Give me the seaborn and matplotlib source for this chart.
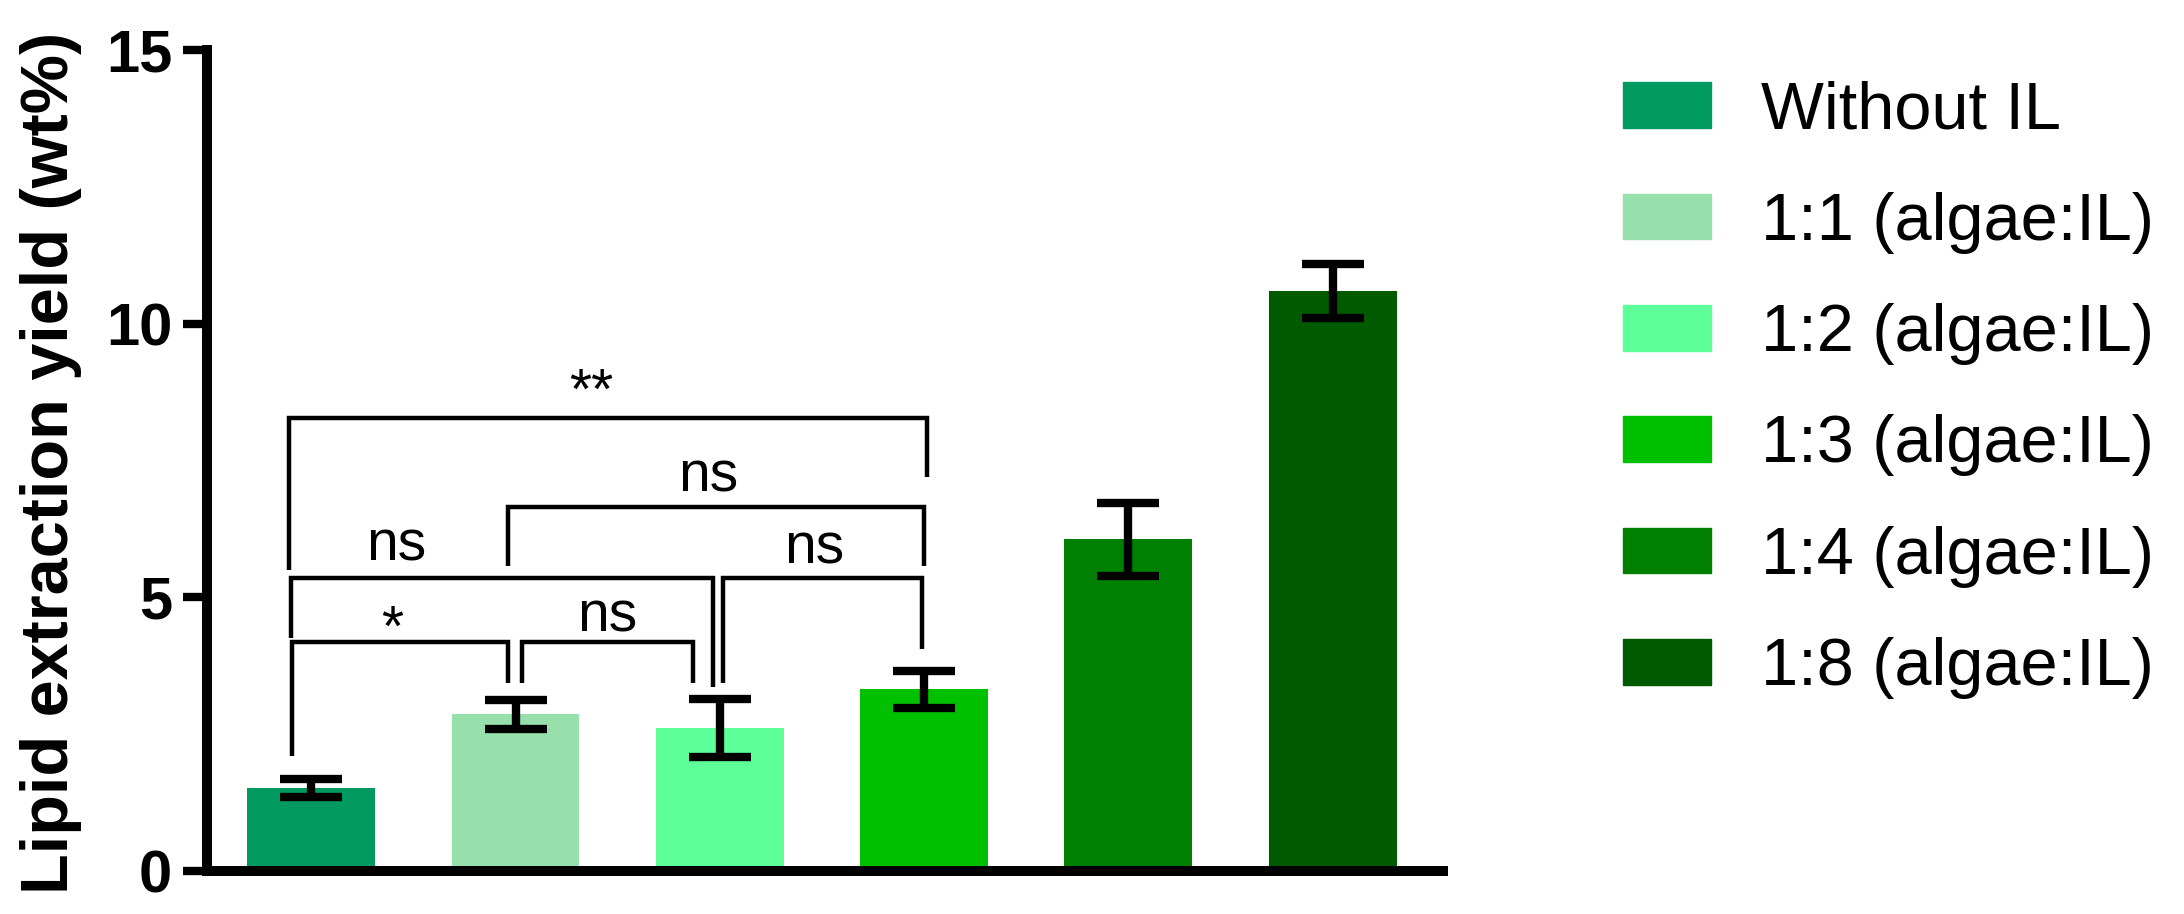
import matplotlib
matplotlib.use('Agg')
import pandas as pd
import matplotlib.pyplot as plt
import matplotlib.patches as mpatches
import seaborn as sns

# bar data (mean +/- error)
groups = ['Without IL', '1:1 (algae:IL)', '1:2 (algae:IL)', '1:3 (algae:IL)',
          '1:4 (algae:IL)', '1:8 (algae:IL)']
means = [1.52, 2.86, 2.61, 3.32, 6.06, 10.6]
errs = [0.17, 0.26, 0.53, 0.34, 0.67, 0.49]
colors = ['#009960', '#97dfab', '#5cff98', '#00c000', '#008000', '#005a00']
yticks = [0, 5, 10, 15]

# significance brackets: groups compared, bracket height, leg ends, label
br_left = [0, 1, 0, 2, 1, 0]
br_right = [1, 2, 2, 3, 3, 3]
br_top = [4.18, 4.18, 5.35, 5.35, 6.65, 8.28]
br_left_end = [2.1, 3.44, 4.26, 3.44, 5.57, 5.5]
br_right_end = [3.44, 3.44, 3.36, 4.05, 5.57, 7.2]
br_label = ['*', 'ns', 'ns', 'ns', 'ns', '**']
br_label_y = [4.12, 4.37, 5.68, 5.61, 6.93, 8.45]

# small x shifts so the legs do not overlap (style only)
left_shift = [-0.093, 0.032, -0.098, 0.015, -0.037, -0.108]
right_shift = [-0.037, -0.132, -0.034, -0.012, 0.002, 0.012]
label_shift = [-0.04, -0.0, -0.52, -0.04, -0.04, -0.08]

df = pd.DataFrame({'group': groups, 'value': means})

sns.set_style('ticks')
plt.rcParams['font.family'] = ['Liberation Sans', 'DejaVu Sans']
plt.rcParams['text.color'] = 'black'
plt.rcParams['axes.labelcolor'] = 'black'
plt.rcParams['ytick.color'] = 'black'
plt.rcParams['xtick.color'] = 'black'

fig = plt.figure(figsize=(21.84, 9.14), dpi=100)
ax = fig.add_axes([0.0948, 0.047, 0.5659, 0.8983])

sns.barplot(data=df, x='group', y='value', hue='group', palette=colors,
            saturation=1, width=0.626, legend=False, linewidth=0, ax=ax)
ax.errorbar(x=list(range(len(groups))), y=means, yerr=errs, fmt='none',
            ecolor='black', elinewidth=6, capsize=22.5, capthick=6, zorder=5)

# brackets
for i in range(len(br_label)):
    xl = br_left[i] + left_shift[i]
    xr = br_right[i] + right_shift[i]
    ax.plot([xl, xl, xr, xr], [br_left_end[i], br_top[i], br_top[i], br_right_end[i]],
            color='black', lw=3.2, solid_capstyle='butt', solid_joinstyle='miter',
            zorder=6)
    xm = (xl + xr) / 2 + label_shift[i]
    ax.text(xm, br_label_y[i], br_label[i], ha='center', va='baseline',
            fontsize=41, color='black')

ax.set_xlim(-0.51, 5.54)
ax.set_ylim(0, 15)
ax.set_yticks(yticks)
ax.set_yticklabels([str(t) for t in yticks], fontsize=43, fontweight='bold')
ax.set_xticks([])
ax.set_xlabel('')
ax.set_ylabel('Lipid extraction yield (wt%)', fontsize=48, fontweight='bold')
ax.yaxis.set_label_coords(-0.101, 0.497)
ax.tick_params(axis='y', length=17, width=6, pad=8, color='black', labelcolor='black')

sns.despine(ax=ax)
for side in ['left', 'bottom']:
    ax.spines[side].set_linewidth(7.2)
    ax.spines[side].set_color('black')

handles = [mpatches.Patch(color=c, label=g) for c, g in zip(colors, groups)]
fig.legend(handles=handles, loc='upper left', bbox_to_anchor=(0.743, 0.912),
           frameon=False, fontsize=48, handlelength=1.32, handleheight=0.675,
           handletextpad=0.76, labelspacing=0.74, borderpad=0, borderaxespad=0,
           labelcolor='black')

fig.savefig('out.png', dpi=100)
